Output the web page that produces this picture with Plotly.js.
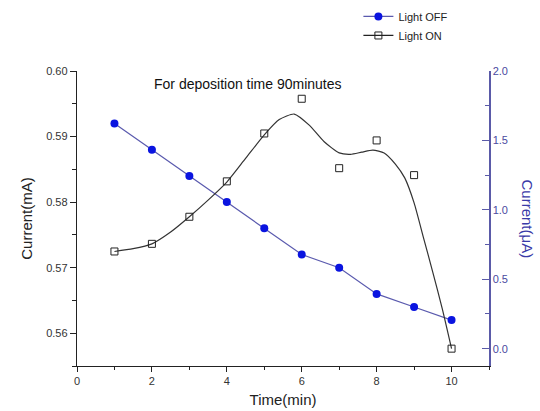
<!DOCTYPE html>
<html>
<head>
<meta charset="utf-8">
<script src="https://cdn.plot.ly/plotly-3.0.1.min.js"></script>
<style>html,body{margin:0;padding:0;background:#fff;}#chart{width:540px;height:411px;}</style>
</head>
<body>
<div id="chart"></div>
<script>
// Data
const timeMin = [1, 2, 3, 4, 5, 6, 7, 8, 9, 10];
const lightOffMA = [0.592, 0.588, 0.584, 0.580, 0.576, 0.572, 0.570, 0.566, 0.564, 0.562];
const lightOnUA = [0.70, 0.755, 0.95, 1.205, 1.55, 1.80, 1.30, 1.50, 1.25, 0.0];
// Smoothed curve drawn through the Light ON points
const fitTime = [1.0, 1.5, 2.0, 2.5, 3.0, 3.5, 4.0, 4.5, 5.0, 5.4, 5.8, 6.2, 6.6, 7.0, 7.3, 7.6, 7.9, 8.2, 8.5, 8.75, 9.0, 9.25, 9.5, 9.75, 10.0];
const fitUA = [0.70, 0.72, 0.755, 0.84, 0.95, 1.07, 1.20, 1.37, 1.54, 1.65, 1.69, 1.61, 1.49, 1.41, 1.40, 1.415, 1.43, 1.41, 1.33, 1.23, 1.05, 0.80, 0.55, 0.29, 0.0];
const xTitle = "Time(min)";
const yLeftTitle = "Current(mA)";
const yRightTitle = "Current(\u03bcA)";
const noteText = "For deposition time 90minutes";

const FONT = "Liberation Sans, Arial, sans-serif";
const BLUE_AX = "#5a5aa8";

const traces = [
  {
    x: timeMin, y: lightOffMA, name: "Light OFF", mode: "lines+markers",
    line: {color: "#5a5aae", width: 1.2},
    marker: {symbol: "circle", size: 8, color: "#0a14e0"},
    xaxis: "x", yaxis: "y"
  },
  {
    x: fitTime, y: fitUA, name: "Light ON fit", mode: "lines", showlegend: false,
    line: {color: "#333", width: 1.2, shape: "spline", smoothing: 0.6},
    xaxis: "x", yaxis: "y2", hoverinfo: "skip"
  },
  {
    x: timeMin, y: lightOnUA, name: "Light ON", mode: "markers", showlegend: false,
    marker: {symbol: "square-open", size: 7, color: "#222", line: {width: 1}},
    xaxis: "x", yaxis: "y2"
  },
  {
    x: [null], y: [null], name: "Light ON", mode: "lines+markers",
    line: {color: "#222", width: 1.2},
    marker: {symbol: "square-open", size: 7, color: "#222", line: {width: 1}},
    xaxis: "x", yaxis: "y2"
  }
];

const layout = {
  width: 540, height: 411,
  margin: {l: 77, r: 51, t: 71, b: 45, pad: 0, autoexpand: false},
  paper_bgcolor: "#fff", plot_bgcolor: "#fff",
  font: {family: FONT, size: 11, color: "#333"},
  showlegend: true,
  legend: {
    x: 0.683, y: 1.234, xanchor: "left", yanchor: "top",
    bgcolor: "rgba(0,0,0,0)", font: {size: 11, color: "#222", family: FONT},
    traceorder: "normal", tracegroupgap: 0, itemwidth: 30
  },
  xaxis: {
    range: [0, 11], dtick: 2, tick0: 0, showgrid: false, zeroline: false,
    showline: true, linecolor: "#222", linewidth: 1.2,
    ticks: "outside", ticklen: 5, tickcolor: "#222",
    minor: {dtick: 1, ticks: "outside", ticklen: 3, tickcolor: "#222"},
    tickfont: {size: 11, color: "#333"},
    title: {text: xTitle, font: {size: 15, color: "#222"}, standoff: 8}
  },
  xaxis2: {
    range: [0, 11], dtick: 1, overlaying: "x", side: "top", anchor: "y",
    showgrid: false, zeroline: false, showticklabels: false,
    showline: true, linecolor: "#222", linewidth: 1.2,
    ticks: "inside", ticklen: 4, tickcolor: "#222"
  },
  yaxis: {
    range: [0.555, 0.60], dtick: 0.01, tick0: 0.56, tickformat: ".2f",
    showgrid: false, zeroline: false, showline: true, linecolor: "#222", linewidth: 1.2,
    ticks: "outside", ticklen: 6, tickcolor: "#222",
    minor: {dtick: 0.005, ticks: "outside", ticklen: 4, tickcolor: "#222"},
    tickfont: {size: 11, color: "#333"},
    title: {text: yLeftTitle, font: {size: 15, color: "#222"}, standoff: 10}
  },
  yaxis2: {
    range: [-0.125, 2.0], dtick: 0.5, tick0: 0, tickformat: ".1f",
    overlaying: "y", side: "right", anchor: "x",
    showgrid: false, zeroline: false, showline: true, linecolor: BLUE_AX, linewidth: 1.5,
    ticks: "inside", ticklen: 7, tickcolor: BLUE_AX,
    minor: {dtick: 0.25, ticks: "inside", ticklen: 4, tickcolor: BLUE_AX},
    tickfont: {size: 11, color: "#4a4aa0"}
  },
  annotations: [
    {
      text: noteText, xref: "x", yref: "paper", x: 2.0, y: 0.956,
      xanchor: "left", yanchor: "middle", showarrow: false,
      font: {size: 14, color: "#111", family: FONT}
    },
    {
      text: yRightTitle, xref: "paper", yref: "paper", x: 1.0, y: 0.5,
      xshift: 38, xanchor: "center", yanchor: "middle", textangle: 90, showarrow: false,
      font: {size: 15, color: "#3a3aa8", family: FONT}
    }
  ]
};

Plotly.newPlot("chart", traces, layout, {displayModeBar: false, staticPlot: true});
</script>
</body>
</html>
